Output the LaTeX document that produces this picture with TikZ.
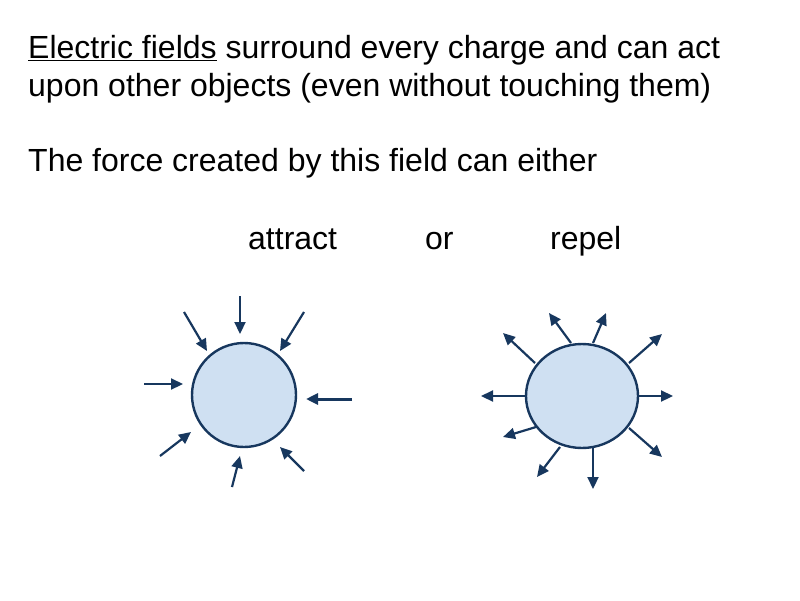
\documentclass[tikz,border=0pt]{standalone}
\usepackage{fontspec}
\setmainfont{Liberation Sans}
\usetikzlibrary{arrows.meta}
\definecolor{navy}{HTML}{17375E}
\definecolor{ball}{HTML}{CFE0F2}
\begin{document}
\begin{tikzpicture}[x=1pt,y=-1pt,
  txt/.style={anchor=base west,inner sep=0pt,font=\fontsize{32}{38}\selectfont},
  ballst/.style={draw=navy,fill=ball,line width=2.4pt},
  fld/.style={draw=navy,line width=2.2pt,-{Triangle[length=12pt,width=11pt]}}]
\useasboundingbox (0,0) rectangle (800,600);
\node[txt] (l1) at (28,58) {\underline{Electric fields} surround every charge and can act};
\node[txt] (l2) at (28,96) {upon other objects (even without touching them)};
\node[txt] (l3) at (28,171) {The force created by this field can either};
\node[txt] (at) at (248,249) {attract};
\node[txt] (or) at (425,249) {or};
\node[txt] (re) at (550,249) {repel};
\draw[ballst] (244,395) ellipse [x radius=52, y radius=52];
\draw[ballst] (582,396) ellipse [x radius=56, y radius=52];
% attract
\coordinate (a1s) at (184,312); \coordinate (a1e) at (207,351);
\coordinate (a2s) at (240,296); \coordinate (a2e) at (240,334);
\coordinate (a3s) at (304,312); \coordinate (a3e) at (280,351);
\coordinate (a4s) at (144,384); \coordinate (a4e) at (183,384);
\coordinate (a5s) at (352,399); \coordinate (a5e) at (306,399);
\coordinate (a6s) at (160,456); \coordinate (a6e) at (191,432);
\coordinate (a7s) at (232,487); \coordinate (a7e) at (240,456);
\coordinate (a8s) at (304,471); \coordinate (a8e) at (280,447);
\foreach \i in {1,2,3,4,6,7,8} \draw[fld] (a\i s) -- (a\i e);
\draw[fld,line width=3pt] (a5s) -- (a5e);
% repel
\coordinate (ras) at (535,363); \coordinate (rae) at (503,333);
\coordinate (rbs) at (571,343); \coordinate (rbe) at (549,313);
\coordinate (rcs) at (593,343); \coordinate (rce) at (606,313);
\coordinate (rds) at (629,363); \coordinate (rde) at (662,334);
\coordinate (res) at (638,396); \coordinate (ree) at (673,396);
\coordinate (rfs) at (526,396); \coordinate (rfe) at (481,396);
\coordinate (rgs) at (536,427); \coordinate (rge) at (503,437);
\coordinate (rhs) at (629,428); \coordinate (rhe) at (662,457);
\coordinate (ris) at (560,447); \coordinate (rie) at (537,477);
\coordinate (rjs) at (593,447); \coordinate (rje) at (593,489);
\foreach \i in {a,b,c,d,e,f,g,h,i,j} \draw[fld] (r\i s) -- (r\i e);
\end{tikzpicture}
\end{document}
